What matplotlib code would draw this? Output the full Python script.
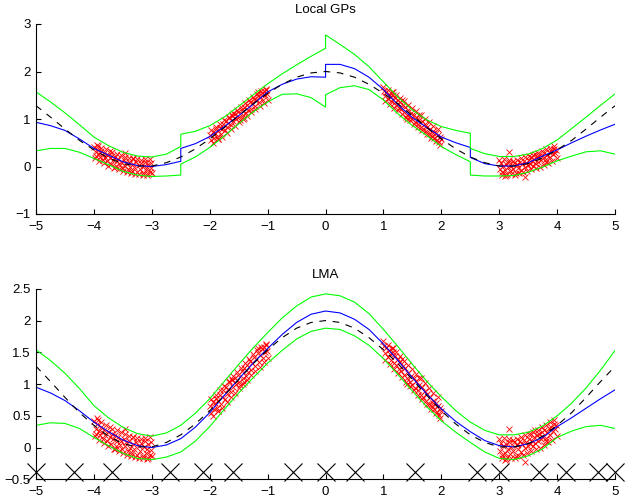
# Local GPs vs LMA: prediction with 2-sigma band, true function and data

import matplotlib
matplotlib.use("Agg")
import matplotlib.pyplot as plt

plt.rcParams['font.family'] = ['Liberation Sans', 'DejaVu Sans']
plt.rcParams['font.size'] = 9.5

# grid of test inputs
x_grid = [-5, -4.75, -4.5, -4.25, -4, -3.75, -3.5, -3.25, -3, -2.75, -2.5,
          -2.25, -2, -1.75, -1.5, -1.25, -1, -0.75, -0.5, -0.25, 0,
          0.25, 0.5, 0.75, 1, 1.25, 1.5, 1.75, 2, 2.25, 2.5,
          2.75, 3, 3.25, 3.5, 3.75, 4, 4.25, 4.5, 4.75, 5]

# true function (dashed)
f_true = [1.28, 1.04, 0.79, 0.55, 0.35, 0.18, 0.06, 0.01, 0.01, 0.08, 0.20,
          0.37, 0.58, 0.82, 1.07, 1.32, 1.54, 1.73, 1.88, 1.97, 2.00,
          1.97, 1.88, 1.73, 1.54, 1.32, 1.07, 0.82, 0.58, 0.37, 0.20,
          0.08, 0.01, 0.01, 0.06, 0.18, 0.35, 0.55, 0.79, 1.04, 1.28]

# training data (red crosses), four clusters
xa = [-3.99, -3.97, -3.96, -3.94, -3.92, -3.9, -3.88, -3.86, -3.84, -3.82,
      -3.8, -3.78, -3.76, -3.73, -3.71, -3.69, -3.67, -3.64, -3.62, -3.6,
      -3.58, -3.55, -3.53, -3.51, -3.48, -3.46, -3.44, -3.41, -3.39, -3.37,
      -3.35, -3.32, -3.3, -3.28, -3.25, -3.23, -3.21, -3.19, -3.16, -3.14,
      -3.12, -3.1, -3.08, -3.06, -3.04, -3.02, -3.01, -3.47,
      -3.98, -3.95, -3.91, -3.87, -3.83, -3.79, -3.75, -3.72, -3.68, -3.65,
      -3.61, -3.57, -3.54, -3.5, -3.47, -3.43, -3.4, -3.36, -3.33, -3.29,
      -3.26, -3.22, -3.18, -3.15, -3.11, -3.07, -3.03, -3.0, -3.93, -3.63,
      -3.33, -3.09]
ya = [0.42, 0.30, 0.22, 0.37, 0.26, 0.19, 0.33, 0.24, 0.14, 0.28,
      0.20, 0.11, 0.25, 0.17, 0.06, 0.22, 0.13, 0.19, 0.02, 0.11,
      0.16, 0.04, 0.10, -0.03, 0.13, 0.02, 0.08, -0.05, 0.10, 0.00,
      -0.09, 0.06, -0.02, 0.09, -0.11, 0.03, -0.06, 0.07, -0.14, 0.01,
      0.10, -0.08, -0.02, 0.05, -0.12, 0.08, -0.04, 0.29,
      0.18, 0.46, 0.12, 0.40, 0.07, 0.36, 0.02, 0.33, 0.30, -0.03,
      0.27, -0.06, 0.24, -0.09, 0.21, -0.12, 0.18, -0.13, 0.16, -0.15,
      0.15, -0.16, 0.14, -0.17, 0.15, -0.16, 0.16, -0.14, 0.44, -0.02,
      0.17, -0.18]
xb = [-1.99, -1.97, -1.95, -1.93, -1.91, -1.89, -1.87, -1.85, -1.83, -1.81,
      -1.79, -1.77, -1.74, -1.72, -1.7, -1.68, -1.66, -1.63, -1.61, -1.59,
      -1.57, -1.54, -1.52, -1.5, -1.48, -1.45, -1.43, -1.41, -1.38, -1.36,
      -1.34, -1.31, -1.29, -1.27, -1.24, -1.22, -1.2, -1.17, -1.15, -1.13,
      -1.1, -1.08, -1.06, -1.04, -1.02, -1.01,
      -1.98, -1.94, -1.9, -1.86, -1.82, -1.78, -1.75, -1.71, -1.67, -1.64,
      -1.6, -1.56, -1.53, -1.49, -1.46, -1.42, -1.39, -1.35, -1.32, -1.28,
      -1.25, -1.21, -1.18, -1.14, -1.11, -1.07, -1.03, -1.0, -1.86, -1.62,
      -1.4, -1.16]
yb = [0.66, 0.55, 0.72, 0.60, 0.70, 0.78, 0.63, 0.74, 0.82, 0.68,
      0.79, 0.90, 0.76, 0.96, 0.84, 0.92, 1.03, 0.88, 1.06, 0.95,
      1.10, 1.00, 1.14, 1.04, 0.98, 1.20, 1.09, 1.25, 1.13, 1.30,
      1.19, 1.36, 1.22, 1.33, 1.43, 1.28, 1.40, 1.49, 1.35, 1.46,
      1.55, 1.41, 1.58, 1.50, 1.61, 1.52,
      0.76, 0.49, 0.83, 0.57, 0.90, 0.63, 0.97, 0.71, 1.05, 0.79,
      1.12, 0.86, 1.19, 0.93, 1.26, 1.00, 1.33, 1.07, 1.40, 1.14,
      1.47, 1.21, 1.53, 1.27, 1.59, 1.34, 1.63, 1.41, 0.58, 1.08,
      1.03, 1.56]
xc = [1.01, 1.03, 1.05, 1.07, 1.09, 1.11, 1.13, 1.16, 1.18, 1.2,
      1.22, 1.25, 1.27, 1.29, 1.31, 1.34, 1.36, 1.38, 1.41, 1.43,
      1.45, 1.48, 1.5, 1.52, 1.55, 1.57, 1.59, 1.62, 1.64, 1.66,
      1.69, 1.71, 1.73, 1.76, 1.78, 1.8, 1.83, 1.85, 1.87, 1.9,
      1.92, 1.94, 1.96, 1.98, 1.99, 1.32,
      1.0, 1.03, 1.07, 1.11, 1.14, 1.18, 1.21, 1.25, 1.28, 1.32,
      1.35, 1.39, 1.42, 1.46, 1.49, 1.53, 1.56, 1.6, 1.64, 1.67,
      1.71, 1.75, 1.78, 1.82, 1.86, 1.9, 1.94, 1.98, 1.16, 1.4,
      1.62, 1.86]
yc = [1.60, 1.49, 1.56, 1.42, 1.53, 1.47, 1.38, 1.50, 1.33, 1.44,
      1.30, 1.39, 1.24, 1.35, 1.21, 1.29, 1.14, 1.25, 1.09, 1.18,
      1.04, 1.13, 0.99, 1.09, 0.94, 1.05, 0.90, 0.98, 0.83, 0.95,
      0.80, 0.89, 0.74, 0.84, 0.69, 0.79, 0.65, 0.74, 0.60, 0.70,
      0.56, 0.66, 0.52, 0.63, 0.57, 1.40,
      1.68, 1.38, 1.62, 1.31, 1.56, 1.24, 1.50, 1.18, 1.44, 1.11,
      1.37, 1.04, 1.30, 0.97, 1.23, 0.90, 1.16, 0.83, 1.09, 0.76,
      1.01, 0.69, 0.94, 0.61, 0.86, 0.54, 0.79, 0.46, 1.56, 1.00,
      1.09, 0.70]
xd = [3.01, 3.03, 3.05, 3.07, 3.09, 3.11, 3.13, 3.15, 3.17, 3.19,
      3.21, 3.24, 3.26, 3.28, 3.3, 3.32, 3.35, 3.37, 3.39, 3.42,
      3.44, 3.46, 3.49, 3.51, 3.53, 3.56, 3.58, 3.6, 3.62, 3.65,
      3.67, 3.69, 3.72, 3.74, 3.76, 3.78, 3.81, 3.83, 3.85, 3.88,
      3.9, 3.92, 3.94, 3.96, 3.98, 3.17, 3.45, 3.62,
      3.0, 3.04, 3.08, 3.12, 3.16, 3.2, 3.23, 3.27, 3.31, 3.34,
      3.38, 3.41, 3.45, 3.48, 3.52, 3.55, 3.59, 3.63, 3.66, 3.7,
      3.73, 3.77, 3.8, 3.84, 3.87, 3.91, 3.95, 3.99, 3.1, 3.3,
      3.55, 3.8]
yd = [-0.05, 0.07, -0.12, 0.02, -0.08, 0.05, -0.15, -0.02, 0.09, -0.10,
      0.01, -0.06, 0.08, -0.13, 0.04, -0.03, 0.10, -0.07, 0.06, 0.12,
      -0.01, 0.08, 0.03, 0.14, 0.05, 0.11, 0.02, 0.16, 0.07, 0.19,
      0.10, 0.22, 0.13, 0.25, 0.17, 0.28, 0.15, 0.24, 0.31, 0.20,
      0.33, 0.26, 0.37, 0.29, 0.35, 0.30, -0.22, 0.27,
      0.14, -0.17, 0.15, -0.18, 0.13, -0.16, 0.12, -0.17, 0.14, -0.14,
      0.17, -0.12, 0.19, -0.09, 0.22, -0.06, 0.25, -0.03, 0.28, 0.00,
      0.32, 0.04, 0.36, 0.08, 0.40, 0.12, 0.44, 0.18, -0.20, 0.05,
      0.21, 0.10]

# Local GPs: four experts, each covers one quarter of the input range
top_x = x_grid[0:11] + x_grid[10:21] + x_grid[20:31] + x_grid[30:41]
top_mean = [0.93, 0.86, 0.76, 0.58, 0.38, 0.24, 0.10, 0.02, 0.00, 0.04, 0.11,
            0.38, 0.48, 0.63, 0.84, 1.07, 1.31, 1.57, 1.73, 1.84, 1.89, 1.88,
            2.15, 2.15, 2.06, 1.88, 1.62, 1.30, 1.03, 0.82, 0.62, 0.50, 0.40,
            0.19, 0.06, 0.01, 0.01, 0.08, 0.22, 0.35, 0.50, 0.64, 0.77, 0.89]
top_upper = [1.57, 1.36, 1.13, 0.88, 0.62, 0.44, 0.30, 0.22, 0.20, 0.26, 0.42,
             0.68, 0.74, 0.86, 1.04, 1.27, 1.51, 1.74, 1.95, 2.14, 2.32, 2.49,
             2.77, 2.57, 2.36, 2.10, 1.78, 1.46, 1.19, 0.98, 0.84, 0.76, 0.70,
             0.38, 0.27, 0.21, 0.21, 0.26, 0.38, 0.56, 0.80, 1.04, 1.29, 1.53]
top_lower = [0.33, 0.38, 0.38, 0.30, 0.17, 0.04, -0.10, -0.18, -0.21, -0.20, -0.18,
             0.05, 0.20, 0.40, 0.64, 0.90, 1.15, 1.36, 1.52, 1.53, 1.45, 1.25,
             1.51, 1.66, 1.70, 1.62, 1.40, 1.11, 0.86, 0.65, 0.42, 0.25, 0.10,
             -0.18, -0.20, -0.20, -0.19, -0.12, -0.01, 0.12, 0.22, 0.31, 0.33, 0.26]

# LMA
lma_mean = [0.95, 0.86, 0.74, 0.58, 0.40, 0.25, 0.12, 0.03, 0.00, 0.04, 0.14,
            0.32, 0.55, 0.82, 1.08, 1.33, 1.56, 1.78, 1.97, 2.10, 2.15,
            2.12, 2.02, 1.86, 1.63, 1.37, 1.10, 0.84, 0.61, 0.41, 0.25,
            0.11, 0.03, 0.01, 0.06, 0.16, 0.33, 0.47, 0.62, 0.77, 0.91]
lma_upper = [1.54, 1.37, 1.17, 0.93, 0.66, 0.47, 0.32, 0.22, 0.18, 0.23, 0.35,
             0.54, 0.77, 1.04, 1.31, 1.57, 1.81, 2.04, 2.23, 2.37, 2.42,
             2.39, 2.29, 2.11, 1.86, 1.59, 1.31, 1.04, 0.80, 0.58, 0.40,
             0.27, 0.20, 0.20, 0.24, 0.34, 0.50, 0.70, 0.94, 1.22, 1.53]
lma_lower = [0.35, 0.39, 0.38, 0.30, 0.16, 0.03, -0.09, -0.17, -0.19, -0.15, -0.07,
             0.10, 0.33, 0.60, 0.86, 1.10, 1.33, 1.53, 1.71, 1.83, 1.88,
             1.86, 1.76, 1.61, 1.40, 1.15, 0.89, 0.64, 0.42, 0.24, 0.08,
             -0.07, -0.17, -0.19, -0.13, -0.02, 0.16, 0.26, 0.33, 0.35, 0.30]

# inducing / support points shown under the LMA plot
x_support = [-5.0, -4.35, -3.69, -2.68, -2.11, -1.6, -0.56, 0.0, 0.51,
             1.55, 2.61, 3.02, 3.68, 4.16, 4.70, 5.0]
y_support = -0.38

x_data = xa + xb + xc + xd
y_data = ya + yb + yc + yd


def style_axes(ax, yticks, ylabels, ylim):
    ax.set_xlim(-5, 5)
    ax.set_ylim(*ylim)
    ax.set_xticks(range(-5, 6))
    ax.set_xticklabels(['\u2212%d' % -v if v < 0 else '%d' % v for v in range(-5, 6)])
    ax.set_yticks(yticks)
    ax.set_yticklabels(ylabels)
    for s in ['top', 'right']:
        ax.spines[s].set_visible(False)
    for s in ['left', 'bottom']:
        ax.spines[s].set_linewidth(0.8)
    ax.tick_params(direction='in', length=3.5, width=0.8)
    ax.tick_params(axis='x', pad=5)
    ax.tick_params(axis='y', pad=4)


fig = plt.figure(figsize=(6.35, 5.0), dpi=100)
ax1 = fig.add_axes([0.0567, 0.572, 0.912, 0.38])
ax2 = fig.add_axes([0.0567, 0.0414, 0.912, 0.381])

for ax, xs, mu, up, lo in [(ax1, top_x, top_mean, top_upper, top_lower),
                           (ax2, x_grid, lma_mean, lma_upper, lma_lower)]:
    ax.plot(x_data, y_data, 'x', color='red', ms=4.5, mew=0.6)
    ax.plot(xs, mu, color='blue', lw=0.8)
    ax.plot(xs, up, color=(0, 1, 0), lw=0.8)
    ax.plot(xs, lo, color=(0, 1, 0), lw=0.8)
    ax.plot(x_grid, f_true, '--', color='black', lw=0.8, dashes=(6, 6))

ax2.plot(x_support, [y_support] * len(x_support), 'x', color='black',
         ms=13, mew=0.8, clip_on=False)

style_axes(ax1, [-1, 0, 1, 2, 3], ['\u22121', '0', '1', '2', '3'], (-1, 3))
style_axes(ax2, [-0.5, 0, 0.5, 1, 1.5, 2, 2.5],
           ['\u22120.5', '0', '0.5', '1', '1.5', '2', '2.5'], (-0.5, 2.5))
ax1.set_title('Local GPs', fontsize=9.5, pad=8)
ax2.set_title('LMA', fontsize=9.5, pad=8)

fig.savefig('out.png', dpi=100)
